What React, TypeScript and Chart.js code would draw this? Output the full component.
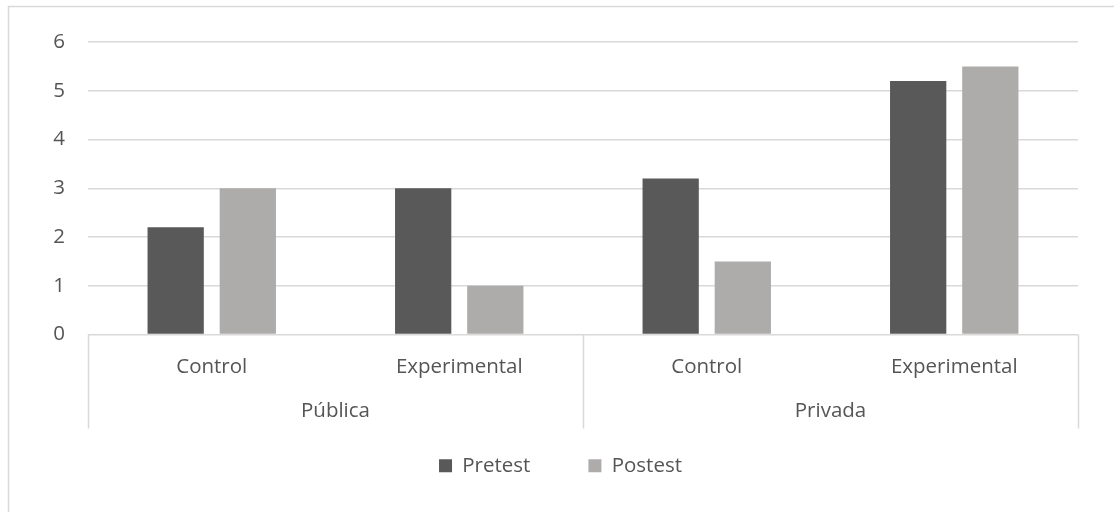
import React, { useEffect, useRef } from "react";
import { Chart, registerables } from "chart.js";

Chart.register(...registerables);

const subCategories = ["Control", "Experimental", "Control", "Experimental"];
const groups = ["Pública", "Privada"];
const pretest = [2.2, 3.0, 3.2, 5.2];
const postest = [3.0, 1.0, 1.5, 5.5];
const seriesNames = ["Pretest", "Postest"];
const yTicks = [0, 1, 2, 3, 4, 5, 6];

const FONT = "'Open Sans', sans-serif";
const TEXT = "#555555";
const GRID = "#d9d9d9";
const FS = 20.5;

const framePlugin = {
  id: "frame",
  beforeDraw(chart: any) {
    const ctx = chart.ctx;
    ctx.save();
    ctx.fillStyle = "#ffffff";
    ctx.fillRect(0, 0, chart.width, chart.height);
    ctx.strokeStyle = GRID;
    ctx.lineWidth = 1.5;
    ctx.beginPath();
    ctx.moveTo(8.5, chart.height);
    ctx.lineTo(8.5, 6.5);
    ctx.lineTo(chart.width, 6.5);
    ctx.stroke();
    ctx.restore();
  },
};

const groupAxisPlugin = {
  id: "groupAxis",
  afterDraw(chart: any) {
    const xs = chart.scales.x;
    const ctx = chart.ctx;
    const n = subCategories.length;
    const catW = (xs.right - xs.left) / n;
    const per = n / groups.length;
    const top = xs.top;
    const bottom = xs.top + 94;
    ctx.save();
    ctx.strokeStyle = GRID;
    ctx.lineWidth = 1.5;
    for (let g = 0; g <= groups.length; g++) {
      let px: number;
      if (g * per >= n) px = xs.getPixelForValue(n - 1) + catW / 2;
      else px = xs.getPixelForValue(g * per) - catW / 2;
      px = Math.round(px) + 0.5;
      ctx.beginPath();
      ctx.moveTo(px, top);
      ctx.lineTo(px, bottom);
      ctx.stroke();
    }
    ctx.fillStyle = TEXT;
    ctx.font = `${FS}px ${FONT}`;
    ctx.textAlign = "center";
    ctx.textBaseline = "middle";
    groups.forEach((g, i) => {
      const first = xs.getPixelForValue(i * per) - catW / 2;
      const last = xs.getPixelForValue(i * per + per - 1) + catW / 2;
      ctx.fillText(g, (first + last) / 2, top + 77);
    });
    ctx.restore();
  },
};

export default function App() {
  const ref = useRef<HTMLCanvasElement | null>(null);
  useEffect(() => {
    if (!ref.current) return;
    const chart = new Chart(ref.current, {
      type: "bar",
      data: {
        labels: subCategories,
        datasets: [
          {
            label: seriesNames[0],
            data: pretest,
            backgroundColor: "#595959",
            categoryPercentage: 0.583,
            barPercentage: 0.78,
          },
          {
            label: seriesNames[1],
            data: postest,
            backgroundColor: "#aeabab",
            categoryPercentage: 0.583,
            barPercentage: 0.78,
          },
        ],
      },
      options: {
        responsive: false,
        animation: false,
        devicePixelRatio: 1,
        layout: { padding: { left: 43, right: 36, top: 42, bottom: 26 } },
        plugins: {
          tooltip: { enabled: false },
          title: { display: false },
          legend: {
            position: "bottom",
            labels: {
              boxWidth: 13,
              boxHeight: 13,
              padding: 58,
              color: TEXT,
              font: { family: FONT, size: FS },
            },
          },
        },
        scales: {
          x: {
            grid: { display: false, drawTicks: false },
            border: { display: false },
            ticks: {
              color: TEXT,
              font: { family: FONT, size: FS },
              padding: 20,
              maxRotation: 0,
            },
            afterFit(scale: any) {
              scale.height = 63;
            },
          },
          y: {
            min: 0,
            max: 6,
            afterBuildTicks(scale: any) {
              scale.ticks = yTicks.map((v) => ({ value: v }));
            },
            grid: { color: GRID, lineWidth: 1.5, drawTicks: false },
            border: { display: false },
            ticks: {
              color: TEXT,
              font: { family: FONT, size: FS },
              padding: 23,
            },
            afterFit(scale: any) {
              scale.width = 45;
            },
          },
        },
      },
      plugins: [framePlugin, groupAxisPlugin],
    });
    return () => chart.destroy();
  }, []);
  return (
    <div style={{ position: "absolute", left: 0, top: 0, width: 1114, height: 512 }}>
      <canvas ref={ref} width={1114} height={512} style={{ width: 1114, height: 512, display: "block" }} />
    </div>
  );
}
